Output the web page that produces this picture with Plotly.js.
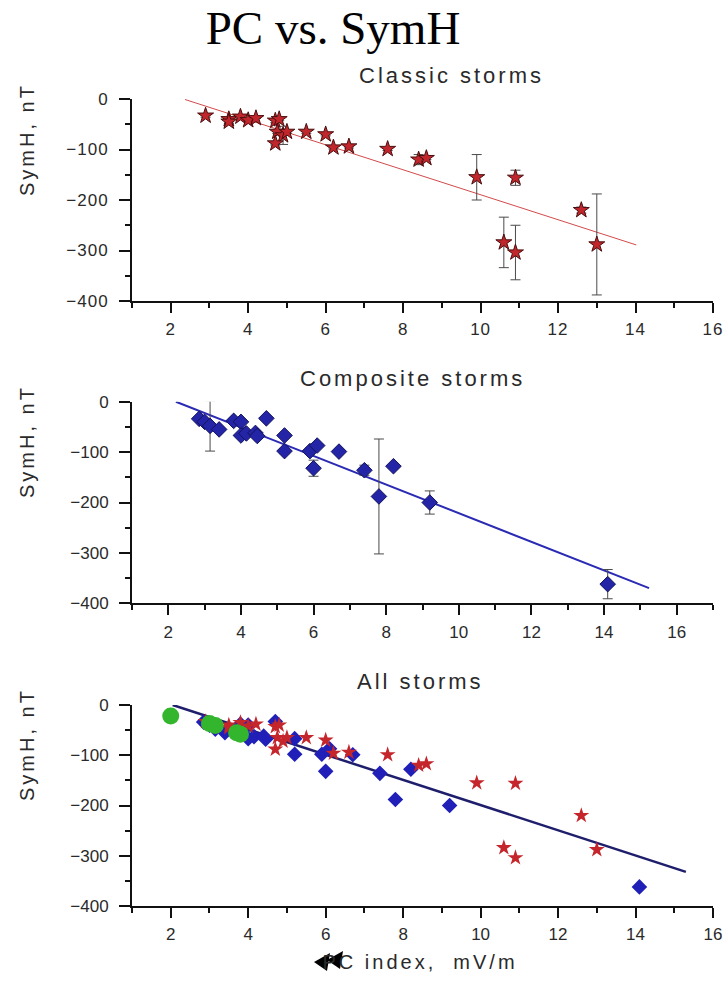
<!DOCTYPE html>
<html>
<head>
<meta charset="utf-8">
<script src="https://cdn.plot.ly/plotly-3.0.1.min.js"></script>
<style>
    html, body { margin: 0; padding: 0; background: #ffffff; }
    #main-screen { width: 726px; height: 981px; }
    .xtick text, .ytick text { letter-spacing: 1px; }
</style>
</head>
<body>
<div id="main-screen"></div>
<script>
// ------------------------------------------------------------------------------
// DATA

// Classic storms (red stars)
const classicX   = [2.9, 3.5, 3.5, 3.8, 4.0, 4.2, 4.7, 4.8, 4.75, 4.9, 5.0, 4.7, 5.5, 6.0, 6.2, 6.6, 7.6, 8.4, 8.6, 9.9, 10.9, 12.6, 10.6, 10.9, 13.0];
const classicY   = [-33, -40, -45, -35, -42, -38, -43, -40, -65, -72, -65, -88, -65, -70, -96, -94, -99, -120, -117, -155, -156, -220, -284, -304, -288];
const classicErr = [3, 3, 3, 3, 0, 0, 4, 3, 3, 18, 3, 3, 3, 3, 3, 3, 3, 10, 3, 45, 15, 6, 50, 54, 100];
const classicFitX = [2.37, 14.02];
const classicFitY = [-1, -289];

// Composite storms (blue diamonds)
const compX   = [2.85, 3.0, 3.15, 3.4, 3.8, 4.0, 4.0, 4.15, 4.4, 4.45, 4.7, 5.2, 5.2, 5.9, 6.1, 6.0, 6.7, 7.4, 7.8, 8.2, 9.2, 14.1];
const compY   = [-34, -40, -48, -55, -38, -40, -67, -63, -62, -68, -33, -67, -98, -98, -87, -132, -99, -136, -188, -128, -200, -362];
const compErr = [3, 3, 50, 3, 3, 3, 3, 3, 3, 3, 0, 3, 5, 6, 3, 16, 3, 10, 114, 3, 23, 29];
const compFitX = [2.21, 15.24];
const compFitY = [0, -370];

// All storms: extra green points and common fit
const extraX = [2.0, 3.0, 3.15, 3.7, 3.8];
const extraY = [-22, -37, -41, -55, -58];
const allFitX = [2.05, 15.3];
const allFitY = [0, -332];

const xTickVals = [2, 4, 6, 8, 10, 12, 14, 16];
const yTickVals = [-400, -300, -200, -100, 0];

// ------------------------------------------------------------------------------
// PARAMETERS

const font_family = '"Liberation Sans", Arial, Helvetica, sans-serif';
const axis_color  = '#111111';
const text_color  = '#2a2a2a';

// plot area in page pixels
const plotL = 132, plotR = 713, plotT = 99, plotB = 906;
const pageW = 726, pageH = 981;

function px2x(px) { return (px - plotL) / (plotR - plotL); }
function px2y(py) { return (plotB - py) / (plotB - plotT); }

const displayConfig = {
    displayModeBar: false,
    staticPlot: true
};

// ------------------------------------------------------------------------------
// AXES

function makeXAxis(range, anchor) {
    return {
        range: range,
        autorange: false,
        anchor: anchor,
        domain: [0, 1],
        tickvals: xTickVals,
        ticks: 'outside',
        ticklen: 10,
        tickwidth: 2,
        tickcolor: axis_color,
        ticklabelstandoff: 2,
        showline: true,
        linecolor: axis_color,
        linewidth: 2,
        showgrid: false,
        zeroline: false,
        tickfont: { family: font_family, size: 17, color: text_color },
        minor: {
            dtick: 1,
            tick0: 0,
            ticks: 'outside',
            ticklen: 5,
            tickwidth: 2,
            tickcolor: axis_color,
            showgrid: false
        }
    };
}

function makeYAxis(domain, anchor) {
    return {
        range: [-400, 0],
        autorange: false,
        anchor: anchor,
        domain: domain,
        tickvals: yTickVals,
        ticks: 'outside',
        ticklen: 11,
        tickwidth: 2,
        tickcolor: axis_color,
        ticklabelstandoff: 7,
        showline: true,
        linecolor: axis_color,
        linewidth: 2,
        showgrid: false,
        zeroline: false,
        tickfont: { family: font_family, size: 17, color: text_color },
        minor: {
            dtick: 50,
            tick0: 0,
            ticks: 'outside',
            ticklen: 5,
            tickwidth: 2,
            tickcolor: axis_color,
            showgrid: false
        }
    };
}

// ------------------------------------------------------------------------------
// TRACES

const errStyle = function (arr) {
    return { type: 'data', array: arr, visible: true, color: '#4a4a4a', thickness: 1, width: 5 };
};

const classic_pts = {
    x: classicX, y: classicY, xaxis: 'x', yaxis: 'y',
    mode: 'markers', type: 'scatter',
    marker: { symbol: 'star', size: 12, color: '#c0262c', line: { color: '#4a0e0e', width: 1 } },
    error_y: errStyle(classicErr)
};

const classic_fit = {
    x: classicFitX, y: classicFitY, xaxis: 'x', yaxis: 'y',
    mode: 'lines', type: 'scatter',
    line: { color: '#d24a4a', width: 1 }
};

const comp_pts = {
    x: compX, y: compY, xaxis: 'x2', yaxis: 'y2',
    mode: 'markers', type: 'scatter',
    marker: { symbol: 'diamond', size: 12, color: '#2424a6', line: { color: '#14145e', width: 1 } },
    error_y: errStyle(compErr)
};

const comp_fit = {
    x: compFitX, y: compFitY, xaxis: 'x2', yaxis: 'y2',
    mode: 'lines', type: 'scatter',
    line: { color: '#2a2ab4', width: 2 }
};

const all_comp = {
    x: compX, y: compY, xaxis: 'x3', yaxis: 'y3',
    mode: 'markers', type: 'scatter',
    marker: { symbol: 'diamond', size: 12, color: '#2020b8' }
};

const all_classic = {
    x: classicX, y: classicY, xaxis: 'x3', yaxis: 'y3',
    mode: 'markers', type: 'scatter',
    marker: { symbol: 'star', size: 12, color: '#c4262c' }
};

const all_extra = {
    x: extraX, y: extraY, xaxis: 'x3', yaxis: 'y3',
    mode: 'markers', type: 'scatter',
    marker: { symbol: 'circle', size: 17, color: '#33b52e' }
};

const all_fit = {
    x: allFitX, y: allFitY, xaxis: 'x3', yaxis: 'y3',
    mode: 'lines', type: 'scatter',
    line: { color: '#1e1e6c', width: 2.5 }
};

// ------------------------------------------------------------------------------
// LAYOUT

function subTitle(text, cx, cy) {
    return {
        text: text, xref: 'paper', yref: 'paper',
        x: px2x(cx), y: px2y(cy), xanchor: 'center', yanchor: 'middle',
        showarrow: false,
        font: { family: font_family, size: 22, color: text_color }
    };
}

function yTitle(cy) {
    return {
        text: 'SymH, nT', xref: 'paper', yref: 'paper',
        x: px2x(27), y: px2y(cy), xanchor: 'center', yanchor: 'middle',
        textangle: -90, showarrow: false,
        font: { family: font_family, size: 20, color: text_color }
    };
}

// black arrowheads over the x title
function arrowHead(tipX, tipY) {
    const p = [[tipX, tipY], [tipX + 16, tipY - 9], [tipX + 13, tipY + 9]];
    return {
        type: 'path', xref: 'paper', yref: 'paper', layer: 'above',
        path: 'M' + p.map(q => px2x(q[0]).toFixed(4) + ',' + px2y(q[1]).toFixed(4)).join(' L') + ' Z',
        fillcolor: '#000000', line: { width: 0 }
    };
}

const layout = {
    width: pageW,
    height: pageH,
    showlegend: false,
    paper_bgcolor: '#ffffff',
    plot_bgcolor: '#ffffff',
    margin: { l: plotL, r: pageW - plotR, t: plotT, b: pageH - plotB, pad: 0 },
    title: {
        text: 'PC vs. SymH',
        font: { family: '"Liberation Serif", "Times New Roman", serif', size: 47, color: '#000000' },
        xref: 'container', yref: 'container',
        x: 333 / pageW, xanchor: 'center',
        y: 1 - 28 / pageH, yanchor: 'middle'
    },
    xaxis:  makeXAxis([1, 16], 'y'),
    yaxis:  makeYAxis([px2y(301), 1], 'x'),
    xaxis2: makeXAxis([1, 17], 'y2'),
    yaxis2: makeYAxis([px2y(603.3), px2y(401.7)], 'x2'),
    xaxis3: makeXAxis([1, 16], 'y3'),
    yaxis3: makeYAxis([0, px2y(705)], 'x3'),
    annotations: [
        subTitle('Classic storms', 452, 75.5),
        subTitle('Composite storms', 412, 378),
        subTitle('All storms', 420, 681.5),
        yTitle(140),
        yTitle(442),
        yTitle(745),
        {
            text: 'PC index,  mV/m', xref: 'paper', yref: 'paper',
            x: px2x(420), y: px2y(962), xanchor: 'center', yanchor: 'middle',
            showarrow: false,
            font: { family: font_family, size: 20, color: text_color }
        }
    ],
    shapes: [
        arrowHead(314, 962),
        arrowHead(327, 960)
    ]
};

Plotly.newPlot('main-screen',
    [classic_fit, classic_pts, comp_fit, comp_pts, all_fit, all_comp, all_classic, all_extra],
    layout, displayConfig
).then(function (gd) {
    // the source figure uses widely spaced lettering for its labels
    gd.querySelectorAll('.annotation-text').forEach(function (el) {
        el.style.letterSpacing = '3px';
    });
});
</script>
</body>
</html>
